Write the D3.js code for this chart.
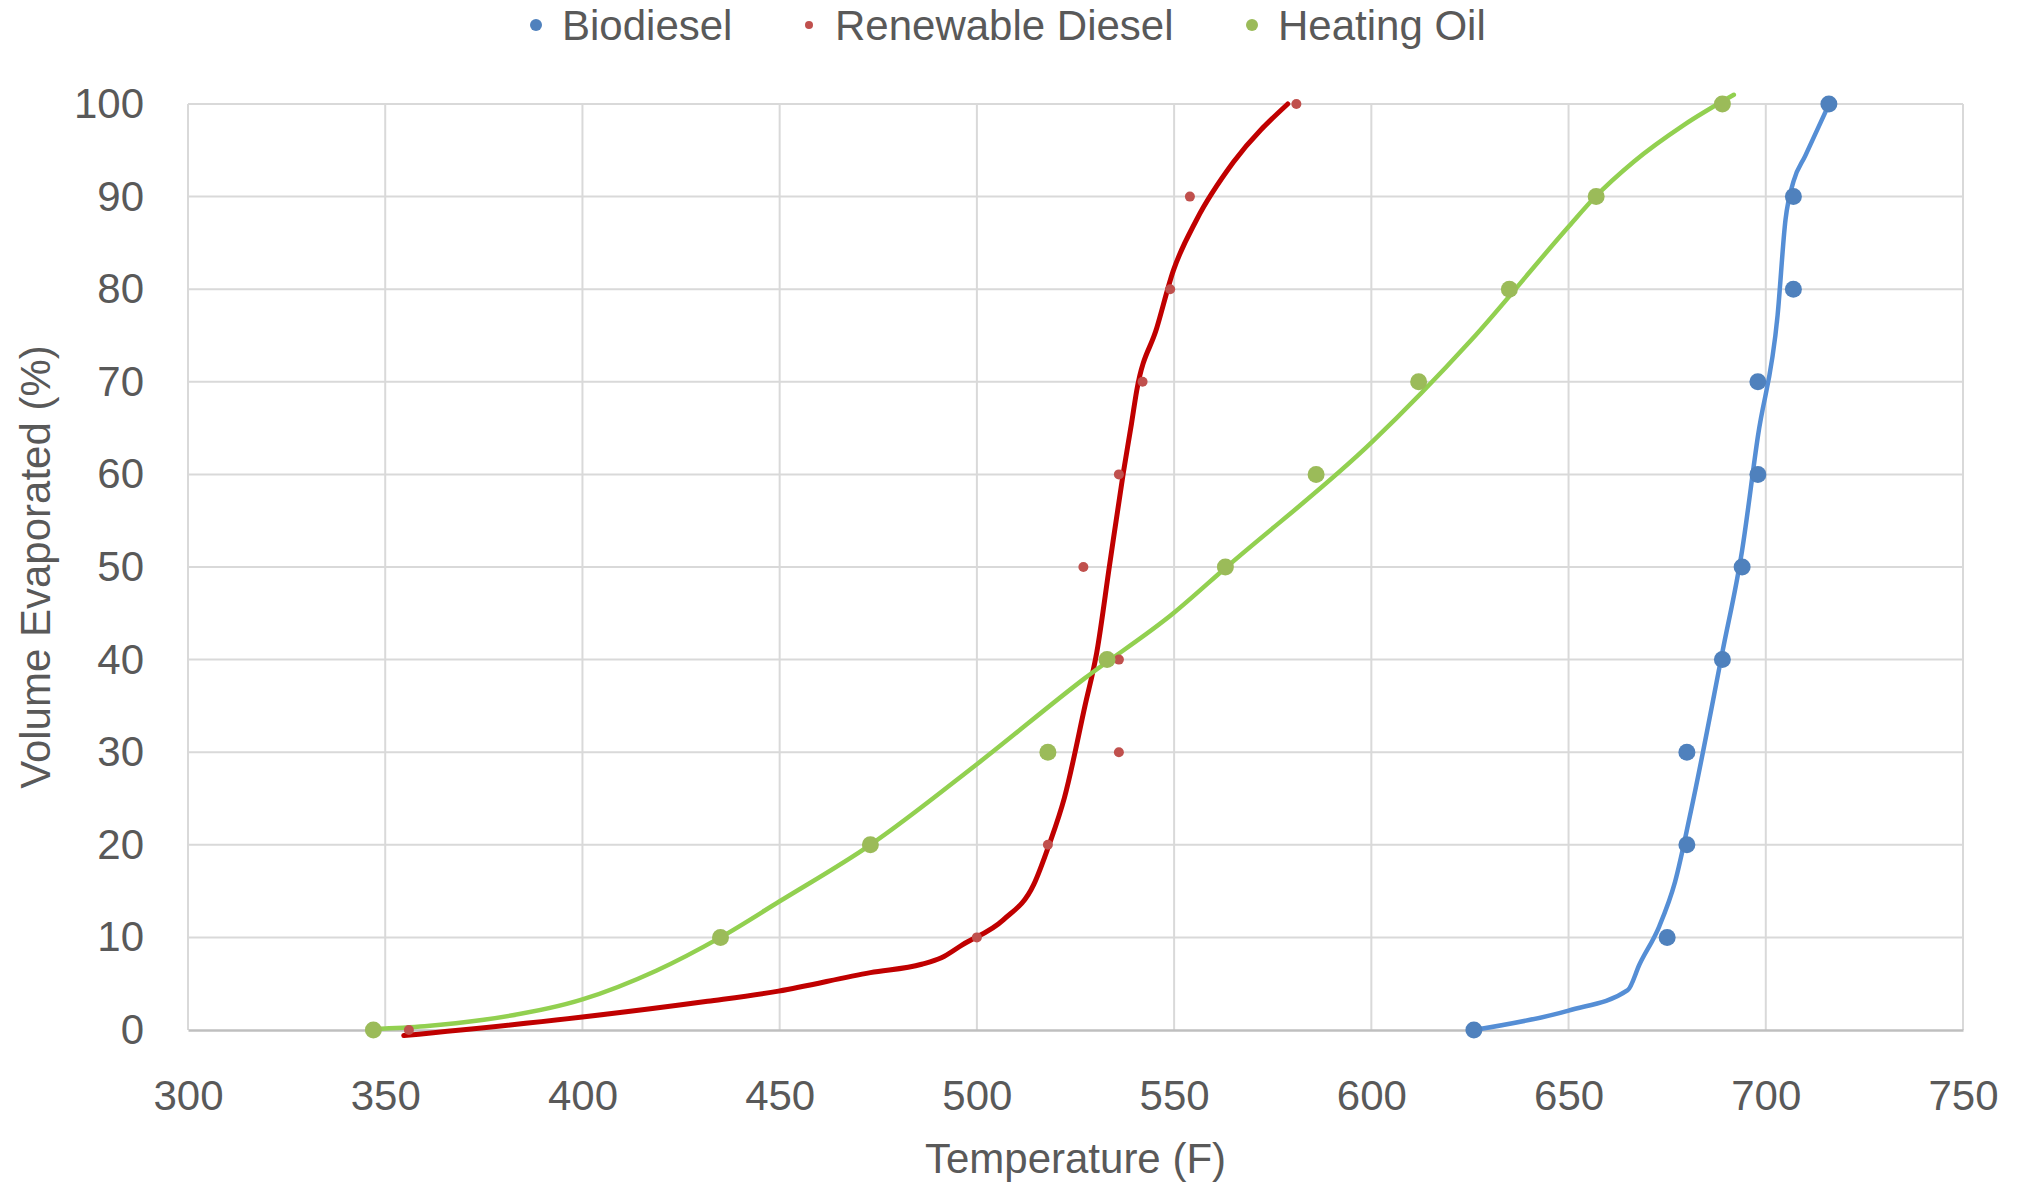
<!DOCTYPE html>
<html>
<head>
<meta charset="utf-8">
<script src="https://cdn.jsdelivr.net/npm/d3@7"></script>
<style>
  html, body { margin: 0; padding: 0; background: #fff; }
  text { font-family: "Liberation Sans", Arial, sans-serif; fill: #595959; }
</style>
</head>
<body>
<div id="chart"></div>
<script>
// series names and the measured points
const seriesNames = ['Biodiesel', 'Renewable Diesel', 'Heating Oil'];
const volumePct = [0, 10, 20, 30, 40, 50, 60, 70, 80, 90, 100];
const biodieselTemp = [626, 675, 680, 680, 689, 694, 698, 698, 707, 707, 716];
const renewableTemp = [356, 500, 518, 536, 536, 527, 536, 542, 549, 554, 581];
const heatingTemp = [347, 435, 473, 518, 533, 563, 586, 612, 635, 657, 689];

// hand drawn trend curves, [temperature, volume]
const biodieselCurve = [[626, 0], [650, 2.1], [665, 4.3], [668, 7.1], [673, 11.2], [677, 16], [681, 23.6],
  [689, 40.8], [694, 51.8], [698, 64.1], [703, 77.2], [705, 87.5], [707, 91.6], [710, 94.4], [716.6, 100.5]];
const renewableCurve = [[354.7, -0.6], [400, 1.4], [431.7, 3.1], [449.7, 4.2], [473, 6.2], [486, 7.1],
  [491, 7.8], [496.3, 9.2], [506.7, 11.9], [514.4, 15.7], [518.3, 20], [522.2, 25.1], [527.4, 35],
  [530.4, 40.8], [533.7, 50.4], [537.1, 60.1], [539.2, 65.5], [540.5, 69], [545.6, 75.8], [549.8, 82],
  [555.7, 87.5], [565, 93.7], [578.8, 100]];
const heatingCurve = [[346.9, 0.1], [360, 0.4], [375, 1.1], [400, 3.3], [418.7, 6.4], [435, 10],
  [450, 13.9], [473, 20], [500, 28.7], [527.4, 38], [549.8, 45], [563.3, 50], [600.2, 63.5],
  [625.1, 74.4], [650.1, 86.8], [656.6, 89.9], [666.6, 93.8], [679.1, 97.7], [691.9, 101]];

const xTicks = [300, 350, 400, 450, 500, 550, 600, 650, 700, 750];
const yTicks = [0, 10, 20, 30, 40, 50, 60, 70, 80, 90, 100];

const W = 2020, H = 1187;
const margin = { top: 104, right: 57, bottom: 157, left: 188 };
const width = W - margin.left - margin.right;
const height = H - margin.top - margin.bottom;

const series = [
  { name: seriesNames[0], temps: biodieselTemp, curve: biodieselCurve, dot: '#4f81bd', line: '#558ed5', r: 8.5, lr: 6, lw: 4.5 },
  { name: seriesNames[1], temps: renewableTemp, curve: renewableCurve, dot: '#c0504d', line: '#c00000', r: 5, lr: 4, lw: 5 },
  { name: seriesNames[2], temps: heatingTemp, curve: heatingCurve, dot: '#9bbb59', line: '#92d050', r: 8.5, lr: 6, lw: 4.5 }
];

const svg = d3.select('#chart').append('svg')
  .attr('width', W)
  .attr('height', H);

const g = svg.append('g')
  .attr('transform', `translate(${margin.left},${margin.top})`);

const x = d3.scaleLinear().domain([300, 750]).range([0, width]);
const y = d3.scaleLinear().domain([0, 100]).range([height, 0]);

// gridlines
g.append('g')
  .selectAll('line')
  .data(yTicks.filter(d => d > 0))
  .enter().append('line')
  .attr('x1', 0).attr('x2', width)
  .attr('y1', d => y(d)).attr('y2', d => y(d))
  .attr('stroke', '#d9d9d9').attr('stroke-width', 2);

g.append('g')
  .selectAll('line')
  .data(xTicks)
  .enter().append('line')
  .attr('x1', d => x(d)).attr('x2', d => x(d))
  .attr('y1', 0).attr('y2', height)
  .attr('stroke', '#d9d9d9').attr('stroke-width', 2);

// axes
const xAxis = g.append('g')
  .attr('transform', `translate(0,${height})`)
  .call(d3.axisBottom(x).tickValues(xTicks).tickSize(0).tickPadding(50));
xAxis.select('.domain').attr('stroke', '#bfbfbf').attr('stroke-width', 2.5);
xAxis.selectAll('text').style('font-size', '42px').attr('fill', '#595959');

const yAxis = g.append('g')
  .call(d3.axisLeft(y).tickValues(yTicks).tickSize(0).tickPadding(44));
yAxis.select('.domain').remove();
yAxis.selectAll('text').style('font-size', '42px').attr('fill', '#595959');

// curves
const line = d3.line()
  .x(d => x(d[0]))
  .y(d => y(d[1]))
  .curve(d3.curveMonotoneX);

g.selectAll('.curve')
  .data(series)
  .enter().append('path')
  .attr('class', 'curve')
  .attr('d', d => line(d.curve))
  .attr('fill', 'none')
  .attr('stroke', d => d.line)
  .attr('stroke-width', d => d.lw)
  .attr('stroke-linecap', 'round');

// points
series.forEach(s => {
  g.append('g')
    .selectAll('circle')
    .data(s.temps.map((t, i) => [t, volumePct[i]]))
    .enter().append('circle')
    .attr('cx', d => x(d[0]))
    .attr('cy', d => y(d[1]))
    .attr('r', s.r)
    .attr('fill', s.dot);
});

// axis titles
svg.append('text')
  .attr('x', margin.left + width / 2)
  .attr('y', 1173)
  .attr('text-anchor', 'middle')
  .style('font-size', '42px')
  .text('Temperature (F)');

svg.append('text')
  .attr('transform', `translate(50,${margin.top + height / 2}) rotate(-90)`)
  .attr('text-anchor', 'middle')
  .style('font-size', '42px')
  .text('Volume Evaporated (%)');

// legend
const legendX = [536, 809, 1252];
const legend = svg.append('g');
series.forEach((s, i) => {
  legend.append('circle')
    .attr('cx', legendX[i]).attr('cy', 25)
    .attr('r', s.lr).attr('fill', s.dot);
  legend.append('text')
    .attr('x', legendX[i] + 26).attr('y', 40)
    .style('font-size', '42px')
    .text(s.name);
});
</script>
</body>
</html>
